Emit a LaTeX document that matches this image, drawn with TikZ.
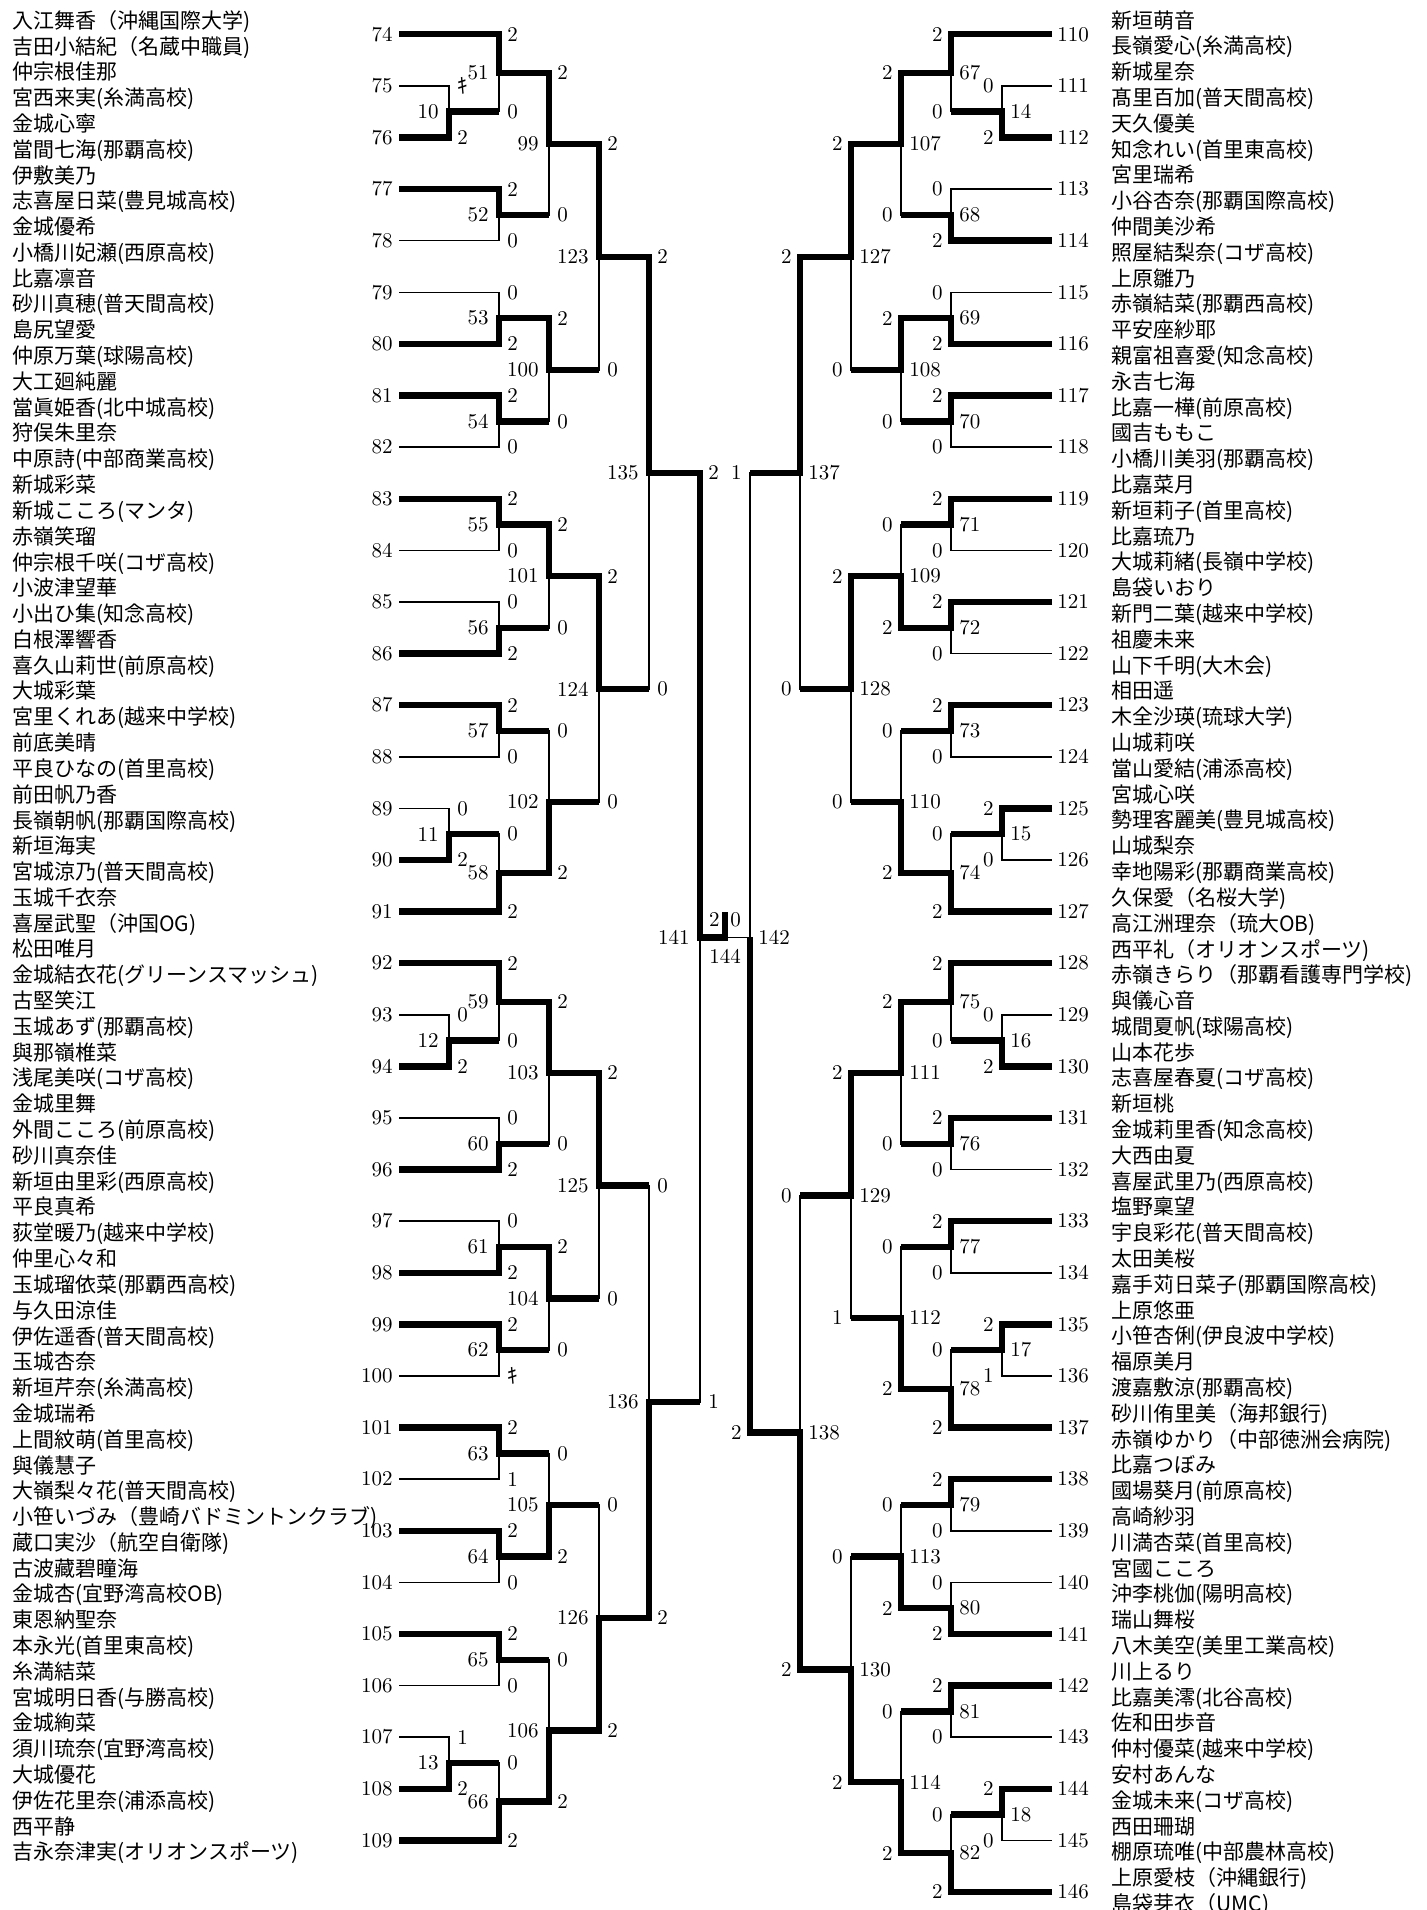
\documentclass[tikz,border=0pt]{standalone}
\usepackage{fontspec}
\usetikzlibrary{calc}
\newfontfamily\jp{Noto Sans CJK JP}
\tikzset{
    loser/.style = {line width=0.8pt},
    winner/.style = {line width=3.2pt},
    num/.style = {font=\fontsize{10.5pt}{12pt}\selectfont, inner sep=0pt},
    lscore/.style = {num, anchor=west, xshift=4pt},
    lno/.style = {num, anchor=east, xshift=-5pt},
    rscore/.style = {num, anchor=east, xshift=-4pt},
    rno/.style = {num, anchor=west, xshift=4pt},
    pair/.style = {font=\jp\fontsize{10.5pt}{12.9pt}\selectfont, align=left, anchor=west, inner sep=0pt},
}
% #1 match no, #2 column, #3 next column, #4 top, #5 bottom, #6/#7 scores, #8 winner (t/b)
\newcommand{\lmatch}[8]{%
    \path let \p1=(#4), \p2=(#5), \p3=(#2) in coordinate (m#1) at (\x3,{(\y1+\y2)/2});
    \draw[loser] (#4) -- (#4 -| m#1) -- (#5 -| m#1) -- (#5);
    \if t#8
        \draw[winner] (#4) -- (#4 -| m#1) -- (m#1) -- (m#1 -| #3);
    \else
        \draw[winner] (#5) -- (#5 -| m#1) -- (m#1) -- (m#1 -| #3);
    \fi
    \node[lscore] at (#4 -| m#1) {#6};
    \node[lscore] at (#5 -| m#1) {#7};
    \node[lno] at (m#1) {#1};
}
\newcommand{\rmatch}[8]{%
    \path let \p1=(#4), \p2=(#5), \p3=(#2) in coordinate (m#1) at (\x3,{(\y1+\y2)/2});
    \draw[loser] (#4) -- (#4 -| m#1) -- (#5 -| m#1) -- (#5);
    \if t#8
        \draw[winner] (#4) -- (#4 -| m#1) -- (m#1) -- (m#1 -| #3);
    \else
        \draw[winner] (#5) -- (#5 -| m#1) -- (m#1) -- (m#1 -| #3);
    \fi
    \node[rscore] at (#4 -| m#1) {#6};
    \node[rscore] at (#5 -| m#1) {#7};
    \node[rno] at (m#1) {#1};
}

\begin{document}
\begin{tikzpicture}[x=0.5pt, y=-0.5pt]
\useasboundingbox (0,0) rectangle (1427,1910);

% columns
\foreach \c/\x in {0/399,1/449,2/499,3/549,4/599,5/649,6/700}
    \coordinate (L\c) at (\x,0);
\foreach \c/\x in {0/1052,1/1002,2/951,3/901,4/851,5/800,6/750}
    \coordinate (R\c) at (\x,0);
\coordinate (F) at (725,0);
\coordinate (NL) at (12,0);
\coordinate (NR) at (1111,0);

% left entries
\foreach \n/\fa/\fb in {
    74/入江舞香（沖縄国際大学)/吉田小結紀（名蔵中職員),
    75/仲宗根佳那/宮西来実(糸満高校),
    76/金城心寧/當間七海(那覇高校),
    77/伊敷美乃/志喜屋日菜(豊見城高校),
    78/金城優希/小橋川妃瀬(西原高校),
    79/比嘉凛音/砂川真穂(普天間高校),
    80/島尻望愛/仲原万葉(球陽高校),
    81/大工廻純麗/當眞姫香(北中城高校),
    82/狩俣朱里奈/中原詩(中部商業高校),
    83/新城彩菜/新城こころ(マンタ),
    84/赤嶺笑瑠/仲宗根千咲(コザ高校),
    85/小波津望華/小出ひ集(知念高校),
    86/白根澤響香/喜久山莉世(前原高校),
    87/大城彩葉/宮里くれあ(越来中学校),
    88/前底美晴/平良ひなの(首里高校),
    89/前田帆乃香/長嶺朝帆(那覇国際高校),
    90/新垣海実/宮城涼乃(普天間高校),
    91/玉城千衣奈/喜屋武聖（沖国OG),
    92/松田唯月/金城結衣花(グリーンスマッシュ),
    93/古堅笑江/玉城あず(那覇高校),
    94/與那嶺椎菜/浅尾美咲(コザ高校),
    95/金城里舞/外間こころ(前原高校),
    96/砂川真奈佳/新垣由里彩(西原高校),
    97/平良真希/荻堂暖乃(越来中学校),
    98/仲里心々和/玉城瑠依菜(那覇西高校),
    99/与久田涼佳/伊佐遥香(普天間高校),
    100/玉城杏奈/新垣芹奈(糸満高校),
    101/金城瑞希/上間紋萌(首里高校),
    102/與儀慧子/大嶺梨々花(普天間高校),
    103/小笹いづみ（豊崎バドミントンクラブ)/蔵口実沙（航空自衛隊),
    104/古波藏碧瞳海/金城杏(宜野湾高校OB),
    105/東恩納聖奈/本永光(首里東高校),
    106/糸満結菜/宮城明日香(与勝高校),
    107/金城絢菜/須川琉奈(宜野湾高校),
    108/大城優花/伊佐花里奈(浦添高校),
    109/西平静/吉永奈津実(オリオンスポーツ)} {
    \coordinate (e\n) at (399,{34.3+51.6*(\n-74)});
    \node[num, anchor=east, xshift=-3pt] at (e\n) {\n};
    \node[pair] (p\n) at (NL |- e\n) {\fa\\\fb};
}

% right entries
\foreach \n/\fa/\fb in {
    110/新垣萌音/長嶺愛心(糸満高校),
    111/新城星奈/髙里百加(普天間高校),
    112/天久優美/知念れい(首里東高校),
    113/宮里瑞希/小谷杏奈(那覇国際高校),
    114/仲間美沙希/照屋結梨奈(コザ高校),
    115/上原雛乃/赤嶺結菜(那覇西高校),
    116/平安座紗耶/親富祖喜愛(知念高校),
    117/永吉七海/比嘉一樺(前原高校),
    118/國吉ももこ/小橋川美羽(那覇高校),
    119/比嘉菜月/新垣莉子(首里高校),
    120/比嘉琉乃/大城莉緒(長嶺中学校),
    121/島袋いおり/新門二葉(越来中学校),
    122/祖慶未来/山下千明(大木会),
    123/相田遥/木全沙瑛(琉球大学),
    124/山城莉咲/當山愛結(浦添高校),
    125/宮城心咲/勢理客麗美(豊見城高校),
    126/山城梨奈/幸地陽彩(那覇商業高校),
    127/久保愛（名桜大学)/高江洲理奈（琉大OB),
    128/西平礼（オリオンスポーツ)/赤嶺きらり（那覇看護専門学校),
    129/與儀心音/城間夏帆(球陽高校),
    130/山本花歩/志喜屋春夏(コザ高校),
    131/新垣桃/金城莉里香(知念高校),
    132/大西由夏/喜屋武里乃(西原高校),
    133/塩野稟望/宇良彩花(普天間高校),
    134/太田美桜/嘉手苅日菜子(那覇国際高校),
    135/上原悠亜/小笹杏俐(伊良波中学校),
    136/福原美月/渡嘉敷涼(那覇高校),
    137/砂川侑里美（海邦銀行)/赤嶺ゆかり（中部徳洲会病院),
    138/比嘉つぼみ/國場葵月(前原高校),
    139/高崎紗羽/川満杏菜(首里高校),
    140/宮國こころ/沖李桃伽(陽明高校),
    141/瑞山舞桜/八木美空(美里工業高校),
    142/川上るり/比嘉美澪(北谷高校),
    143/佐和田歩音/仲村優菜(越来中学校),
    144/安村あんな/金城未来(コザ高校),
    145/西田珊瑚/棚原琉唯(中部農林高校),
    146/上原愛枝（沖縄銀行)/島袋芽衣（UMC)} {
    \coordinate (e\n) at (1052,{34.3+51.6*(\n-110)});
    \node[num, anchor=west, xshift=2.5pt] at (e\n) {\n};
    \node[pair] (p\n) at (NR |- e\n) {\fa\\\fb};
}

% left half
\lmatch{10}{L1}{L2}{e75}{e76}{\jp ｷ}{2}{b}
\lmatch{51}{L2}{L3}{e74}{m10}{2}{0}{t}
\lmatch{52}{L2}{L3}{e77}{e78}{2}{0}{t}
\lmatch{99}{L3}{L4}{m51}{m52}{2}{0}{t}
\lmatch{53}{L2}{L3}{e79}{e80}{0}{2}{b}
\lmatch{54}{L2}{L3}{e81}{e82}{2}{0}{t}
\lmatch{100}{L3}{L4}{m53}{m54}{2}{0}{t}
\lmatch{123}{L4}{L5}{m99}{m100}{2}{0}{t}
\lmatch{55}{L2}{L3}{e83}{e84}{2}{0}{t}
\lmatch{56}{L2}{L3}{e85}{e86}{0}{2}{b}
\lmatch{101}{L3}{L4}{m55}{m56}{2}{0}{t}
\lmatch{57}{L2}{L3}{e87}{e88}{2}{0}{t}
\lmatch{11}{L1}{L2}{e89}{e90}{0}{2}{b}
\lmatch{58}{L2}{L3}{m11}{e91}{0}{2}{b}
\lmatch{102}{L3}{L4}{m57}{m58}{0}{2}{b}
\lmatch{124}{L4}{L5}{m101}{m102}{2}{0}{t}
\lmatch{135}{L5}{L6}{m123}{m124}{2}{0}{t}
\lmatch{12}{L1}{L2}{e93}{e94}{0}{2}{b}
\lmatch{59}{L2}{L3}{e92}{m12}{2}{0}{t}
\lmatch{60}{L2}{L3}{e95}{e96}{0}{2}{b}
\lmatch{103}{L3}{L4}{m59}{m60}{2}{0}{t}
\lmatch{61}{L2}{L3}{e97}{e98}{0}{2}{b}
\lmatch{62}{L2}{L3}{e99}{e100}{2}{\jp ｷ}{t}
\lmatch{104}{L3}{L4}{m61}{m62}{2}{0}{t}
\lmatch{125}{L4}{L5}{m103}{m104}{2}{0}{t}
\lmatch{63}{L2}{L3}{e101}{e102}{2}{1}{t}
\lmatch{64}{L2}{L3}{e103}{e104}{2}{0}{t}
\lmatch{105}{L3}{L4}{m63}{m64}{0}{2}{b}
\lmatch{65}{L2}{L3}{e105}{e106}{2}{0}{t}
\lmatch{13}{L1}{L2}{e107}{e108}{1}{2}{b}
\lmatch{66}{L2}{L3}{m13}{e109}{0}{2}{b}
\lmatch{106}{L3}{L4}{m65}{m66}{0}{2}{b}
\lmatch{126}{L4}{L5}{m105}{m106}{0}{2}{b}
\lmatch{136}{L5}{L6}{m125}{m126}{0}{2}{b}
\lmatch{141}{L6}{F}{m135}{m136}{2}{1}{t}

% right half
\rmatch{14}{R1}{R2}{e111}{e112}{0}{2}{b}
\rmatch{67}{R2}{R3}{e110}{m14}{2}{0}{t}
\rmatch{68}{R2}{R3}{e113}{e114}{0}{2}{b}
\rmatch{107}{R3}{R4}{m67}{m68}{2}{0}{t}
\rmatch{69}{R2}{R3}{e115}{e116}{0}{2}{b}
\rmatch{70}{R2}{R3}{e117}{e118}{2}{0}{t}
\rmatch{108}{R3}{R4}{m69}{m70}{2}{0}{t}
\rmatch{127}{R4}{R5}{m107}{m108}{2}{0}{t}
\rmatch{71}{R2}{R3}{e119}{e120}{2}{0}{t}
\rmatch{72}{R2}{R3}{e121}{e122}{2}{0}{t}
\rmatch{109}{R3}{R4}{m71}{m72}{0}{2}{b}
\rmatch{73}{R2}{R3}{e123}{e124}{2}{0}{t}
\rmatch{15}{R1}{R2}{e125}{e126}{2}{0}{t}
\rmatch{74}{R2}{R3}{m15}{e127}{0}{2}{b}
\rmatch{110}{R3}{R4}{m73}{m74}{0}{2}{b}
\rmatch{128}{R4}{R5}{m109}{m110}{2}{0}{t}
\rmatch{137}{R5}{R6}{m127}{m128}{2}{0}{t}
\rmatch{16}{R1}{R2}{e129}{e130}{0}{2}{b}
\rmatch{75}{R2}{R3}{e128}{m16}{2}{0}{t}
\rmatch{76}{R2}{R3}{e131}{e132}{2}{0}{t}
\rmatch{111}{R3}{R4}{m75}{m76}{2}{0}{t}
\rmatch{77}{R2}{R3}{e133}{e134}{2}{0}{t}
\rmatch{17}{R1}{R2}{e135}{e136}{2}{1}{t}
\rmatch{78}{R2}{R3}{m17}{e137}{0}{2}{b}
\rmatch{112}{R3}{R4}{m77}{m78}{0}{2}{b}
\rmatch{129}{R4}{R5}{m111}{m112}{2}{1}{t}
\rmatch{79}{R2}{R3}{e138}{e139}{2}{0}{t}
\rmatch{80}{R2}{R3}{e140}{e141}{0}{2}{b}
\rmatch{113}{R3}{R4}{m79}{m80}{0}{2}{b}
\rmatch{81}{R2}{R3}{e142}{e143}{2}{0}{t}
\rmatch{18}{R1}{R2}{e144}{e145}{2}{0}{t}
\rmatch{82}{R2}{R3}{m18}{e146}{0}{2}{b}
\rmatch{114}{R3}{R4}{m81}{m82}{0}{2}{b}
\rmatch{130}{R4}{R5}{m113}{m114}{0}{2}{b}
\rmatch{138}{R5}{R6}{m129}{m130}{0}{2}{b}

% right semifinal, joined at the final's height
\coordinate (m142) at (R6 |- m141);
\draw[loser] (m137) -- (m137 -| m142) -- (m138 -| m142) -- (m138);
\draw[winner] (m138) -- (m138 -| m142) -- (m142);
\node[rscore] at (m137 -| m142) {1};
\node[rscore] at (m138 -| m142) {2};
\node[rno] at (m142) {142};

% final
\coordinate (m144) at (F |- m141);
\draw[loser] (m144) -- (m142);
\draw[winner] (m141) -- (m144) -- ++(0,-25);
\node[num, anchor=east, xshift=-2.5pt, yshift=9pt] at (m144) {2};
\node[num, anchor=west, xshift=2.5pt, yshift=9pt] at (m144) {0};
\node[num, anchor=north, yshift=-6pt] at (m144) {144};
\end{tikzpicture}
\end{document}
